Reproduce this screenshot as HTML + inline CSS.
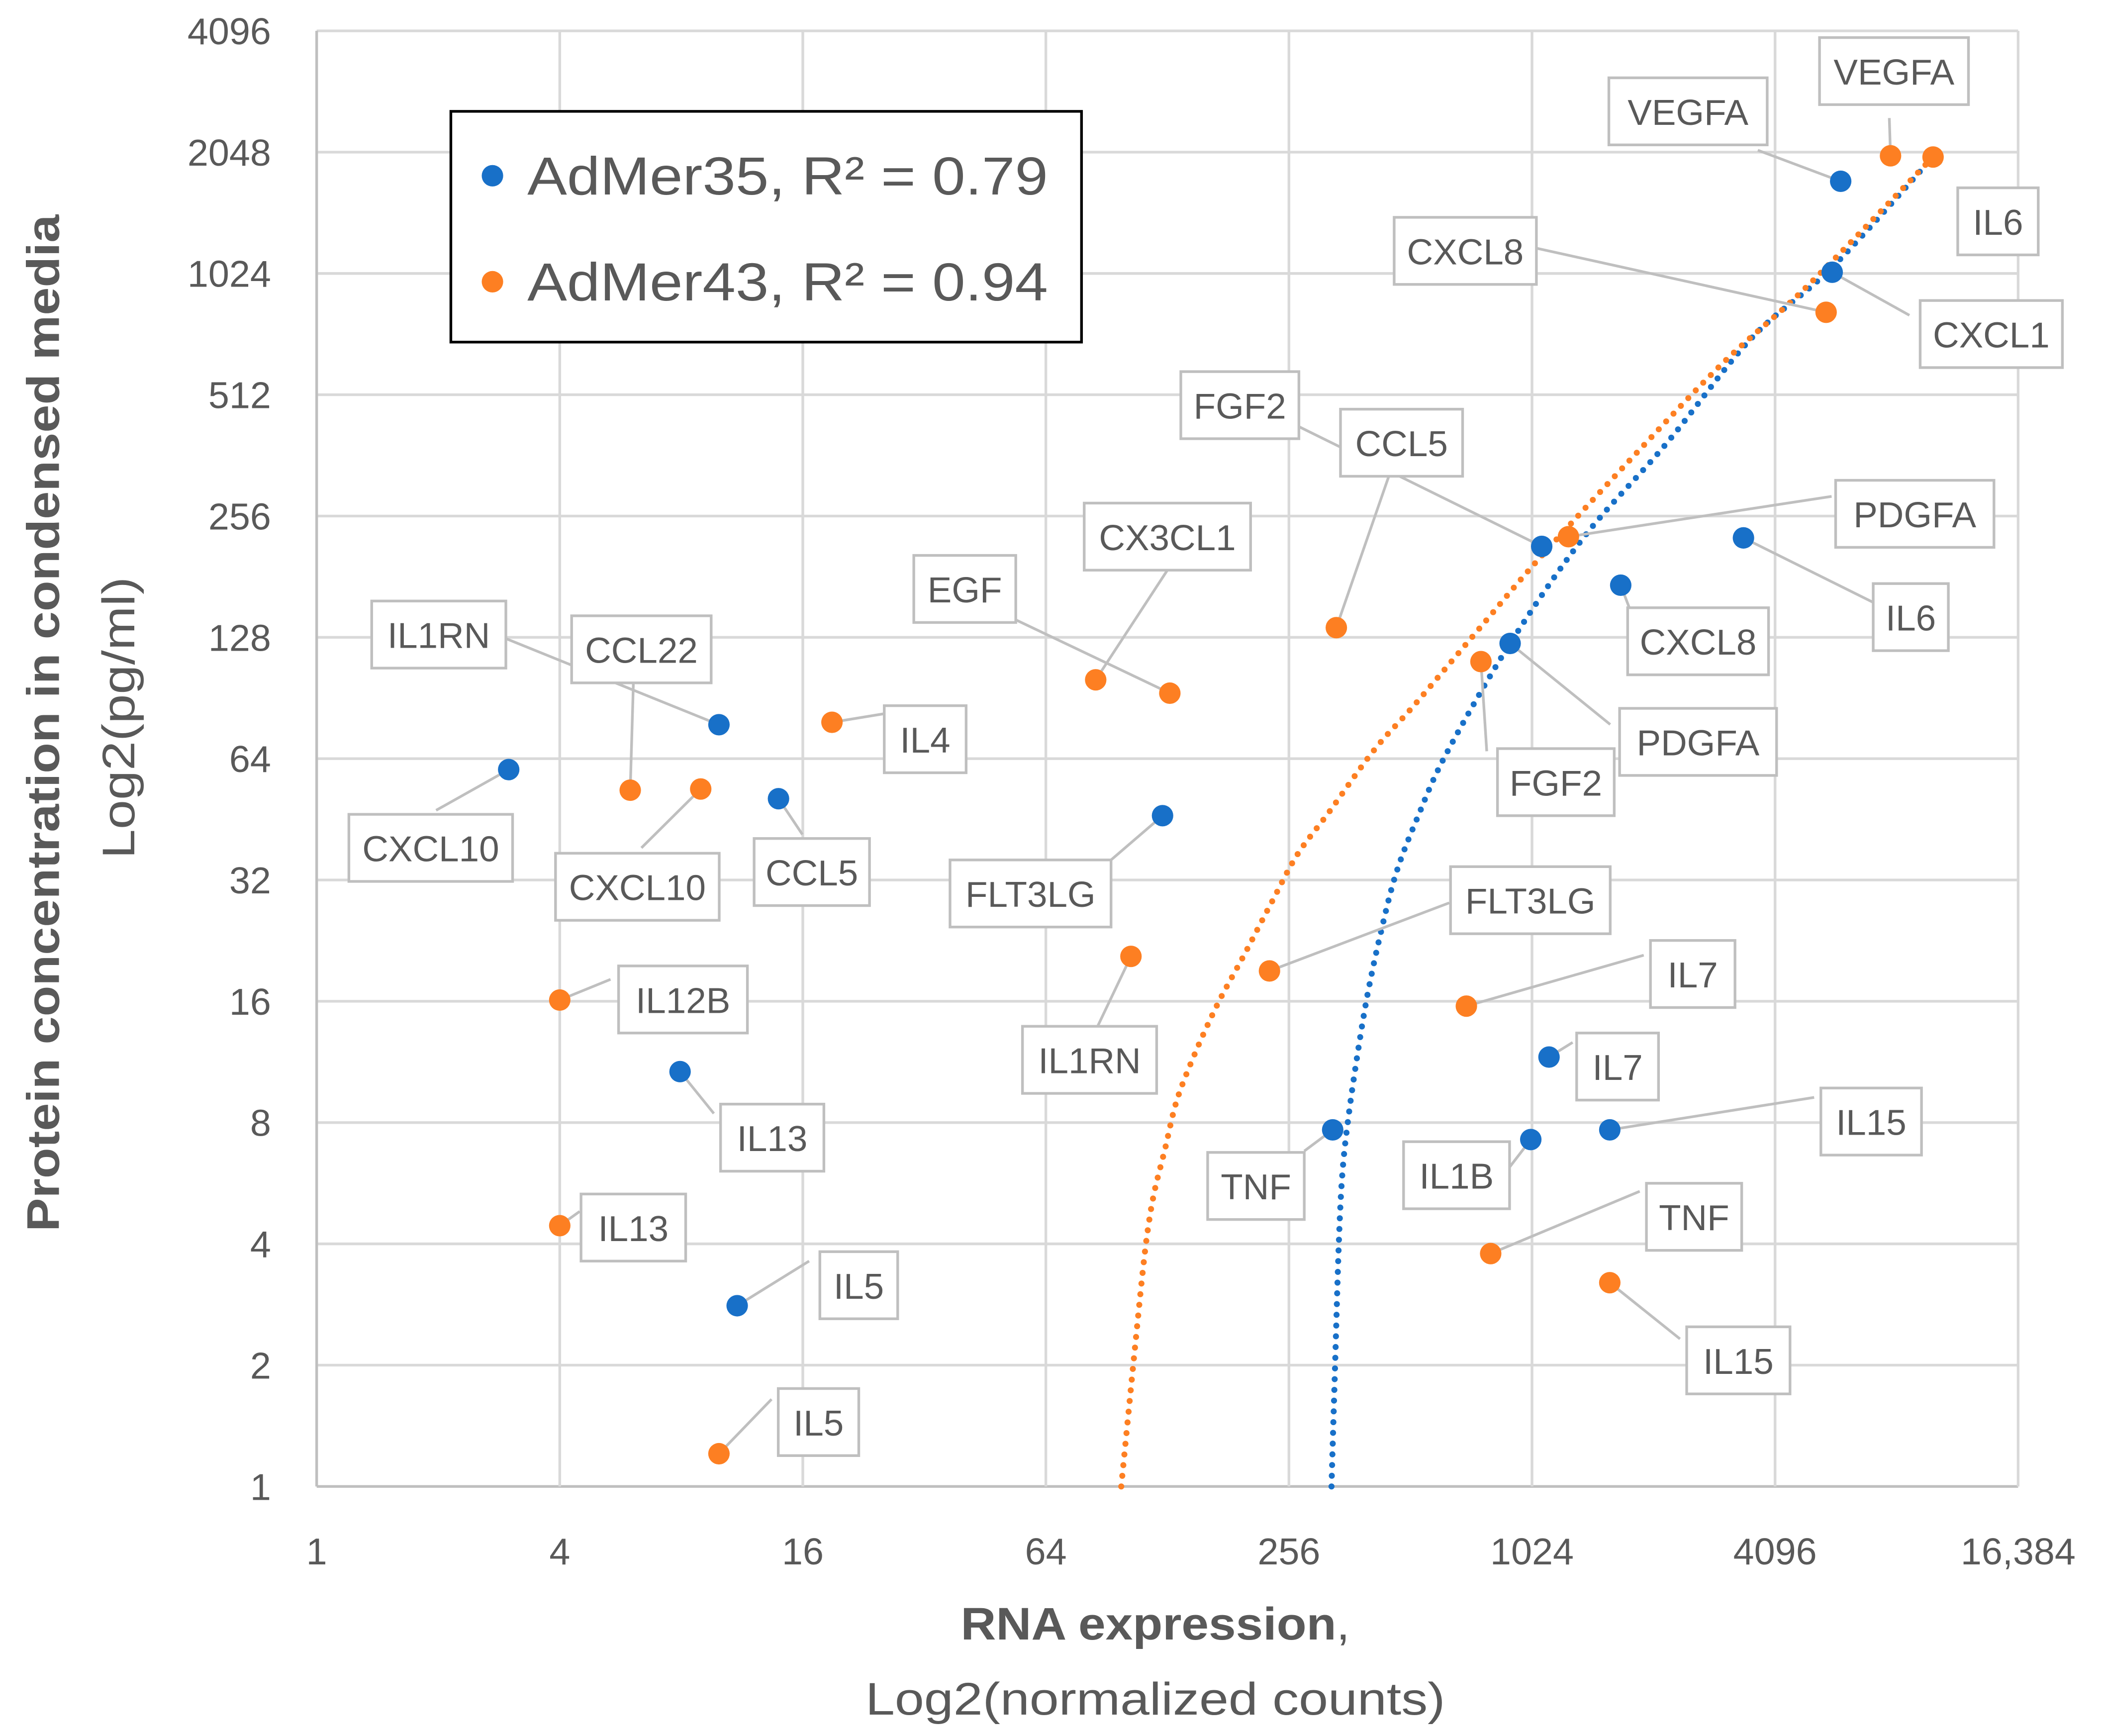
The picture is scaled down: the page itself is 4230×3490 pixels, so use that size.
<!DOCTYPE html>
<html><head><meta charset="utf-8"><style>
html,body{margin:0;padding:0;background:#fff;}
svg{display:block;}
text{font-family:"Liberation Sans",sans-serif;}
</style></head><body>
<svg id="chart" width="4230" height="3490" viewBox="0 0 1568 1294" preserveAspectRatio="none" xmlns="http://www.w3.org/2000/svg">
<rect x="0" y="0" width="1568" height="1294" fill="#fff"/>
<g id="grid"></g>
<g id="trends"></g>
<g id="leaders"></g>
<g id="points"></g>
<g id="labels"></g>
<g id="ticks"></g>
<g>
  <rect x="336" y="83" width="470" height="172" fill="#fff" stroke="#000" stroke-width="2"/>
  <circle cx="367" cy="131" r="8" fill="#1870c8"/>
  <text x="393" y="145" font-size="40" fill="#595959" textLength="388" lengthAdjust="spacingAndGlyphs">AdMer35, R² = 0.79</text>
  <circle cx="367" cy="210" r="8" fill="#fd7f22"/>
  <text x="393" y="224" font-size="40" fill="#595959" textLength="388" lengthAdjust="spacingAndGlyphs">AdMer43, R² = 0.94</text>
</g>
<text x="716" y="1222" font-size="34" font-weight="bold" fill="#595959" textLength="290" lengthAdjust="spacingAndGlyphs">RNA expression<tspan font-weight="normal">,</tspan></text>
<text x="645" y="1278" font-size="34" fill="#595959" textLength="432" lengthAdjust="spacingAndGlyphs">Log2(normalized counts)</text>
<text transform="translate(44,918) rotate(-90)" font-size="34" font-weight="bold" fill="#595959" textLength="758" lengthAdjust="spacingAndGlyphs">Protein concentration in condensed media</text>
<text transform="translate(100,640) rotate(-90)" font-size="34" fill="#595959" textLength="210" lengthAdjust="spacingAndGlyphs">Log2(pg/ml)</text>
</svg>
<script>
// ---- data (log2 values) ----
const xTicks = ["1","4","16","64","256","1024","4096","16,384"];
const yTicks = ["1","2","4","8","16","32","64","128","256","512","1024","2048","4096"];
const blueNames = ["VEGFA","IL6","CXCL1","CXCL8","PDGFA","FGF2","IL1RN","CXCL10","CCL5","FLT3LG","IL13","IL5","TNF","IL1B","IL7","IL15"];
const blueX = [12.54,11.74,12.47,10.73,9.82,10.08,3.31,1.58,3.80,6.96,2.99,3.46,8.36,9.99,10.14,10.64];
const blueY = [10.76,7.82,10.01,7.43,6.95,7.75,6.28,5.91,5.67,5.53,3.42,1.49,2.94,2.86,3.54,2.94];
const orangeNames = ["VEGFA","IL6","CXCL8","PDGFA","CCL5","FGF2","EGF","CX3CL1","IL4","CCL22","CXCL10","IL12B","IL13","IL5","IL1RN","FLT3LG","IL7","TNF","IL15"];
const orangeX = [12.95,13.30,12.42,10.30,8.39,9.58,7.02,6.41,4.24,2.58,3.16,2.00,2.00,3.31,6.70,7.84,9.46,9.66,10.64];
const orangeY = [10.97,10.96,9.68,7.83,7.08,6.80,6.54,6.65,6.30,5.74,5.75,4.01,2.15,0.27,4.37,4.25,3.96,1.92,1.68];
const blueTrendX = [8.35,8.38,8.41,8.44,8.49,8.57,8.65,8.75,8.88,9.06,9.30,9.82,10.43,11.10,11.80,12.47,13.30];
const blueTrendY = [0,1.01,1.99,2.58,3.05,3.60,4.07,4.54,5.05,5.52,6.05,6.95,7.83,8.59,9.46,10.05,10.96];
const orangeTrendX = [6.62,6.72,6.80,6.85,6.90,6.98,7.08,7.24,7.42,7.63,7.86,8.07,8.33,8.70,9.03,9.59,10.06,10.86,11.57,12.27,13.30];
const orangeTrendY = [0,1.01,1.80,2.19,2.46,2.78,3.19,3.60,3.99,4.38,4.82,5.21,5.56,6.07,6.44,7.10,7.65,8.52,9.26,9.90,10.96];

const NS="http://www.w3.org/2000/svg";
const X0=236,X1=1504,Y0=1108,Y1=23;
function sx(u){return X0+u*(X1-X0)/14;}
function sy(v){return Y0-v*(Y0-Y1)/12;}
function mk(tag,attrs,parent){const e=document.createElementNS(NS,tag);for(const k in attrs)e.setAttribute(k,attrs[k]);parent.appendChild(e);return e;}
const grid=document.getElementById('grid'),ticks=document.getElementById('ticks');
for(let i=0;i<=12;i++){const y=sy(i);
  const l=mk('line',{x1:X0,x2:X1,y1:y,y2:y,stroke:i==0?'#bfbfbf':'#d9d9d9','stroke-width':2},grid);
  
  
  const t=mk('text',{x:202,y:y+10,'font-size':28,fill:'#595959','text-anchor':'end'},ticks);
  t.textContent=yTicks[i];
  
  
}
for(let i=0;i<=7;i++){const x=sx(i*2);
  const l=mk('line',{x1:x,x2:x,y1:Y1,y2:Y0,stroke:i==0?'#bfbfbf':'#d9d9d9','stroke-width':2},grid);
  
  
  const t=mk('text',{x:x,y:1166,'font-size':28,fill:'#595959','text-anchor':'middle'},ticks);
  t.textContent=xTicks[i];
  
  
}
const trends=document.getElementById('trends');
function trend(xs,ys,color,name){
  const P=xs.map((u,i)=>[sx(u),sy(ys[i])]);
  let d='M'+P[0][0].toFixed(1)+' '+P[0][1].toFixed(1);
  for(let i=0;i<P.length-1;i++){
    const p0=P[Math.max(0,i-1)],p1=P[i],p2=P[i+1],p3=P[Math.min(P.length-1,i+2)];
    const c1=[p1[0]+(p2[0]-p0[0])/6,p1[1]+(p2[1]-p0[1])/6],c2=[p2[0]-(p3[0]-p1[0])/6,p2[1]-(p3[1]-p1[1])/6];
    d+='C'+c1[0].toFixed(1)+' '+c1[1].toFixed(1)+' '+c2[0].toFixed(1)+' '+c2[1].toFixed(1)+' '+p2[0].toFixed(1)+' '+p2[1].toFixed(1);
  }
  const p=mk('path',{d:d,fill:'none',stroke:color,'stroke-width':4.5,'stroke-linecap':'round','stroke-dasharray':'0 8'},trends);
  
  
}
trend(blueTrendX,blueTrendY,'#1870c8','trendline-admer35');
trend(orangeTrendX,orangeTrendY,'#fd7f22','trendline-admer43');

const pts=document.getElementById('points');
blueX.forEach((u,i)=>{const c=mk('circle',{cx:sx(u),cy:sy(blueY[i]),r:8,fill:'#1870c8'},pts);
  
  });
orangeX.forEach((u,i)=>{const c=mk('circle',{cx:sx(u),cy:sy(orangeY[i]),r:8,fill:'#fd7f22'},pts);
  
  });

// labels: [series, name, boxX, boxY, boxW, lineStartX, lineStartY]
const labelDefs=[
 ['b','VEGFA',1199,58,118,1310,112],['o','VEGFA',1356,28,111,1408,88],['o','IL6',1459,140,60,1447,122],
 ['b','CXCL1',1431,224,106,1423,235],['o','CXCL8',1039,162,106,1145,185],['b','FGF2',880,277,88,968,318],
 ['o','CCL5',999,305,91,1035,355],['o','PDGFA',1368,358,118,1365,370],['b','IL6',1396,435,56,1398,450],
 ['b','CXCL8',1213,453,105,1215,455],['b','PDGFA',1207,528,117,1200,540],['o','FGF2',1116,558,87,1108,560],
 ['o','CX3CL1',808,375,124,870,425],['o','EGF',681,414,76,757,462],['b','IL1RN',277,448,100,377,476],
 ['o','CCL22',426,459,104,472,510],['o','IL4',659,526,61,659,532],['b','CXCL10',260,607,122,325,604],
 ['o','CXCL10',414,636,122,478,632],['b','CCL5',562,625,86,598,622],['b','FLT3LG',708,641,120,828,641],
 ['o','FLT3LG',1081,646,119,1080,673],['o','IL1RN',762,765,100,818,765],['o','IL7',1230,701,63,1225,712],
 ['b','IL7',1175,770,61,1172,777],['o','IL12B',461,720,96,455,730],['b','IL13',537,823,77,532,830],
 ['b','IL15',1357,811,75,1352,818],['b','TNF',900,859,72,972,858],['b','IL1B',1046,851,79,1125,870],
 ['o','IL13',433,890,78,432,903],['o','TNF',1227,882,71,1222,888],['o','IL15',1257,989,77,1252,998],
 ['b','IL5',611,933,58,603,940],['o','IL5',580,1035,60,575,1043]];
const leaders=document.getElementById('leaders'),labels=document.getElementById('labels');
labelDefs.forEach(d=>{
  const names=d[0]=='b'?blueNames:orangeNames,xs=d[0]=='b'?blueX:orangeX,ys=d[0]=='b'?blueY:orangeY;
  const k=names.indexOf(d[1]);
  const ln=mk('line',{x1:d[5],y1:d[6],x2:sx(xs[k]),y2:sy(ys[k]),stroke:'#bfbfbf','stroke-width':2},leaders);
  
  
  const g=mk('g',{},labels);
  
  
  mk('rect',{x:d[2],y:d[3],width:d[4],height:50,fill:'#fff',stroke:'#bfbfbf','stroke-width':2},g);
  const t=mk('text',{x:d[2]+d[4]/2,y:d[3]+35,'font-size':27,fill:'#595959','text-anchor':'middle'},g);
  t.textContent=d[1];
});
</script>
</body></html>
